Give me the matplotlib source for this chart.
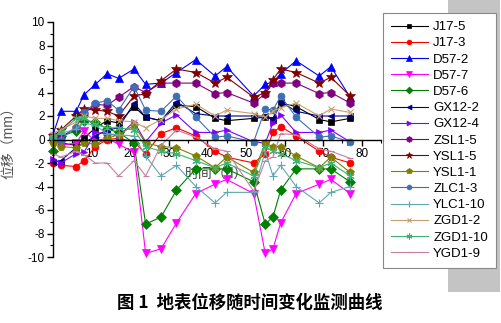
import matplotlib
matplotlib.use("Agg")
import matplotlib.pyplot as plt
import matplotlib.patches as mpatches
from matplotlib.ticker import MultipleLocator, FixedLocator

plt.rcParams['font.family'] = ['Liberation Sans', 'Noto Sans CJK SC', 'DejaVu Sans']
plt.rcParams['axes.unicode_minus'] = False

# ---- data ----
days = [0, 2, 6, 8, 11, 14, 17, 21, 24, 28, 32, 37, 42, 45, 52, 55, 57, 59, 63, 69, 72, 77]

names = ["J17-5", "J17-3", "D57-2", "D57-7", "D57-6", "GX12-2", "GX12-4", "ZSL1-5",
         "YSL1-5", "YSL1-1", "ZLC1-3", "YLC1-10", "ZGD1-2", "ZGD1-10", "YGD1-9"]

j17_5   = [0.0, -0.3, -0.5, 0.1, 1.0, 1.6, 1.4, 2.8, 1.9, 1.6, 2.9, 2.8, 1.8, 1.6, 1.8, 1.9, 1.7, 3.1, 2.8, 1.7, 1.5, 1.8]
j17_3   = [-2.0, -2.2, -2.3, -1.8, -0.6, 0.0, 0.1, -0.2, -1.2, 0.5, 1.0, 0.3, -1.0, -1.5, -2.0, -1.2, 0.6, 1.1, 0.3, -1.0, -1.5, -2.0]
d57_2   = [0.4, 2.4, 2.4, 3.8, 4.7, 5.6, 5.2, 6.0, 4.7, 4.8, 5.7, 6.8, 5.4, 6.2, 3.7, 4.7, 4.9, 5.6, 6.7, 5.4, 6.2, 3.6]
d57_7   = [0.2, -0.5, -0.3, 0.7, -0.1, 0.1, -0.4, -1.1, -9.7, -9.3, -7.1, -4.6, -3.8, -3.4, -4.6, -9.7, -9.3, -7.1, -4.6, -3.8, -3.4, -4.6]
d57_6   = [-1.0, 0.3, 0.7, 1.6, 1.5, 0.9, 0.6, -0.3, -7.2, -6.6, -4.3, -2.5, -2.5, -2.5, -3.6, -7.2, -6.6, -4.3, -2.5, -2.5, -2.5, -3.6]
gx12_2  = [-1.9, -1.8, -0.7, -0.3, 0.3, 0.8, 1.0, 3.1, 1.9, 1.6, 3.2, 2.2, 2.0, 2.0, 2.0, 2.0, 1.8, 3.2, 2.4, 2.0, 2.0, 2.0]
gx12_4  = [-1.7, -2.0, -1.2, -1.1, 0.6, 0.5, 0.3, 1.5, -0.2, 1.4, 2.1, 0.6, 0.6, 0.8, -0.2, -0.3, 1.4, 2.1, 0.6, 0.6, 0.8, -0.2]
zsl1_5  = [0.2, 0.2, 1.0, 2.2, 3.0, 2.9, 3.6, 4.5, 4.0, 4.8, 4.8, 4.8, 3.9, 4.0, 3.1, 3.9, 4.8, 4.8, 4.8, 3.9, 4.0, 3.1]
ysl1_5  = [0.3, 0.8, 2.0, 2.6, 2.5, 2.4, 2.0, 3.7, 3.9, 5.0, 6.0, 5.7, 4.8, 5.3, 3.6, 4.0, 5.1, 6.0, 5.7, 4.8, 5.3, 3.7]
ysl1_1  = [-0.3, -0.6, -0.7, -0.3, -0.4, 0.1, 0.4, 1.2, -0.3, -0.6, -0.7, -1.4, -2.4, -1.5, -2.8, -0.3, -0.6, -0.6, -1.4, -2.4, -1.5, -2.8]
zlc1_3  = [0.2, 0.0, 1.1, 2.3, 3.1, 3.3, 2.5, 4.5, 2.5, 2.4, 3.7, 1.9, 0.2, 0.3, -0.2, 2.6, 2.5, 3.7, 1.9, 0.2, 0.3, -0.2]
ylc1_10 = [0.3, 0.5, 0.9, 1.4, 1.2, 0.5, 0.4, 0.3, -1.4, -3.1, -2.2, -4.0, -5.4, -4.5, -4.5, -1.0, -3.1, -2.2, -4.0, -5.4, -4.5, -4.0]
zgd1_2  = [0.5, 0.8, 1.5, 2.0, 1.8, 1.8, 1.6, 1.5, 1.0, 1.7, 2.6, 3.0, 2.0, 2.5, 2.2, 1.9, 2.4, 2.7, 3.1, 2.0, 2.6, 2.3]
zgd1_10 = [0.2, 0.6, 1.8, 1.8, 1.3, 1.0, 1.0, 0.8, -0.6, -1.0, -1.2, -1.8, -2.4, -2.0, -3.1, -0.6, -1.0, -1.2, -1.8, -2.4, -2.0, -3.1]
ygd1_9  = [-1.2, -1.5, -1.0, -1.3, -2.0, -2.0, -3.1, -1.8, -3.1, -0.5, 0.8, 0.2, -0.8, -1.0, -4.4, -1.8, -1.5, 0.5, 0.4, -0.8, -1.0, -1.6]

series = [j17_5, j17_3, d57_2, d57_7, d57_6, gx12_2, gx12_4, zsl1_5,
          ysl1_5, ysl1_1, zlc1_3, ylc1_10, zgd1_2, zgd1_10, ygd1_9]

colors = ["#000000", "#FF0000", "#0000FF", "#FF00FF", "#008000", "#000080", "#8000FF", "#800080",
          "#800000", "#808000", "#3D6FB6", "#5FA8B0", "#C8A070", "#3CB371", "#C77FA0"]
markers = ["s", "o", "^", "v", "D", "<", ">", "h", "*", "p", "o", "+", "x", (6, 2, 0), "_"]
msizes = [5, 5, 6, 6, 5, 5, 5, 6, 7, 6, 5, 6, 5, 6, 5]

fig = plt.figure(figsize=(5.02, 3.23), dpi=100)

# gray block behind the legend
fig.patches.append(mpatches.Rectangle((448 / 502, 1 - 292 / 323), 52 / 502, 292 / 323,
                                      transform=fig.transFigure, facecolor="#c4c4c4",
                                      edgecolor="none", zorder=-1))

ax = fig.add_axes([53 / 502, 1 - 257 / 323, (381 - 53) / 502, (257 - 22) / 323])
ax.patch.set_alpha(0)

for vals, name, c, m, ms in zip(series, names, colors, markers, msizes):
    ax.plot(days, vals, color=c, marker=m, markersize=ms, linewidth=0.8,
            markeredgewidth=0.8 if m in ("+", "x", "_") or isinstance(m, tuple) else 0.5,
            label=name, clip_on=False)

ax.set_xlim(0, 85)
ax.set_ylim(-10, 10)

ax.spines['top'].set_visible(False)
ax.spines['right'].set_visible(False)
ax.spines['bottom'].set_position(('data', 0))
ax.spines['left'].set_linewidth(1.0)
ax.spines['bottom'].set_linewidth(1.0)

ax.xaxis.set_major_locator(FixedLocator([10, 20, 30, 40, 50, 60, 70, 80]))
ax.xaxis.set_minor_locator(MultipleLocator(5))
ax.yaxis.set_major_locator(MultipleLocator(2))
ax.yaxis.set_minor_locator(MultipleLocator(1))
ax.tick_params(axis='both', which='major', direction='out', length=4, width=1.0,
               labelsize=8.5, pad=2)
ax.tick_params(axis='both', which='minor', direction='out', length=2.5, width=0.8)

ax.set_xlabel("时间（d）", fontsize=10, color="#444444")
ax.xaxis.set_label_coords(0.5, 0.385)
ax.set_ylabel("位移（mm）", fontsize=10, color="#555555", labelpad=8)

leg = ax.legend(loc="upper left", bbox_to_anchor=(383 / 502, 1 - 13 / 323),
                bbox_transform=fig.transFigure, borderaxespad=0, fontsize=9.5,
                frameon=True, fancybox=False, edgecolor="#888888", framealpha=1,
                handlelength=2.8, handletextpad=0.4, labelspacing=0.3,
                borderpad=0.6, markerscale=0.7)
leg.get_frame().set_linewidth(0.8)

fig.text(250 / 502, 1 - 303 / 323, "图 1  地表位移随时间变化监测曲线",
         ha="center", va="center", fontsize=12.5, fontweight="bold",
         family=["Noto Sans CJK SC"])

fig.savefig("out.png", dpi=100)
